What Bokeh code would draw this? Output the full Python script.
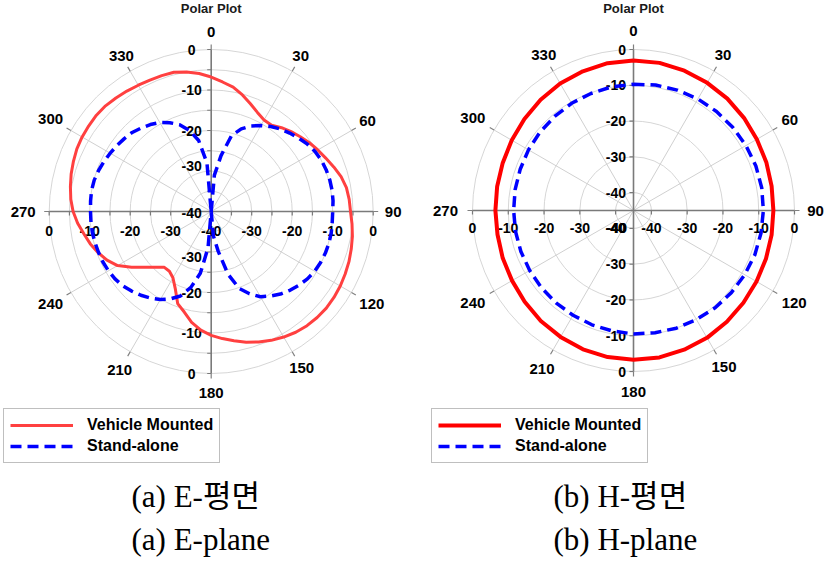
import math
from bokeh.plotting import figure
from bokeh.models import Range1d, Legend, LegendItem
from bokeh.layouts import row
from bokeh.core.properties import value
from bokeh.embed import file_html
from bokeh.resources import INLINE

# ---------------- data ----------------
E_ANGLES = list(range(0, 360, 5))
E_VEHICLE = [-6.8, -7.9, -8.8, -10.2, -11.7, -13.0, -13.9, -14.0, -13.0, -12.1,
             -11.3, -10.4, -9.6, -8.8, -7.8, -6.8, -6.1, -5.8, -5.6, -5.1,
             -4.6, -4.2, -3.8, -3.5, -3.2, -3.0, -2.9, -3.0, -3.2, -3.6,
             -4.2, -4.9, -5.7, -6.6, -7.6, -8.5, -9.4, -10.6, -12.2, -14.3,
             -15.8, -19.0, -21.1, -22.0, -22.0, -20.5, -18.6, -16.0, -13.3, -11.6,
             -10.3, -9.1, -8.1, -6.9, -5.9, -5.2, -4.7, -4.2, -3.8, -3.4,
             -3.2, -3.1, -3.0, -3.1, -3.4, -3.7, -4.0, -4.2, -4.3, -4.4,
             -5.0, -5.8]
E_STANDALONE = [-40.0, -31.0, -26.0, -20.6, -18.3, -16.7, -15.5, -14.4, -13.4, -12.6,
                -11.8, -11.0, -10.4, -10.0, -9.8, -9.7, -9.7, -9.8, -10.0, -10.0,
                -9.9, -9.9, -10.0, -10.2, -10.5, -11.0, -11.7, -12.5, -13.4, -14.5,
                -15.7, -17.6, -19.8, -24.0, -30.0, -34.0, -40.0, -31.0, -24.5, -20.6,
                -17.8, -16.2, -14.9, -13.9, -13.0, -12.2, -11.5, -11.0, -10.7, -10.5,
                -10.4, -10.3, -10.2, -10.2, -10.2, -10.1, -10.0, -10.1, -10.4, -10.8,
                -11.2, -11.6, -12.0, -12.4, -13.1, -13.8, -14.6, -15.8, -17.2, -19.3,
                -22.2, -28.0]
H_ANGLES = list(range(0, 360, 10))
H_VEHICLE = [-3.1, -3.1, -3.4, -3.8, -4.2, -4.7, -5.2, -5.5, -5.8, -5.9,
             -5.8, -5.6, -5.3, -4.9, -4.4, -3.9, -3.6, -3.3, -3.3, -3.4,
             -3.7, -4.2, -4.7, -5.3, -5.8, -6.1, -6.4, -6.4, -6.3, -6.1,
             -5.7, -5.2, -4.6, -4.0, -3.6, -3.2]
H_STANDALONE = [-9.7, -9.4, -9.2, -9.0, -8.9, -8.8, -8.7, -8.6, -8.6, -8.7,
                -8.8, -8.9, -9.1, -9.3, -9.5, -9.8, -10.0, -10.3, -10.5, -10.8,
                -11.0, -11.2, -11.3, -11.4, -11.5, -11.5, -11.5, -11.5, -11.4, -11.3,
                -11.1, -10.9, -10.7, -10.4, -10.2, -9.9]

ANGLE_TICKS = [0, 30, 60, 90, 120, 150, 180, 210, 240, 270, 300, 330]
ANGLE_LABELS = ["0", "30", "60", "90", "120", "150", "180", "210", "240", "270", "300", "330"]
E_RINGS = [-35, -30, -25, -20, -15, -10, -5, 0]
E_LABEL_VALUES = [0, -10, -20, -30, -40]
H_RINGS = [-40, -30, -20, -10, 0]
H_LABEL_VALUES = [0, -10, -20, -30, -40]
SERIES = ["Vehicle Mounted", "Stand-alone"]
TITLE = "Polar Plot"
CAPTIONS_E = ["(a)  E-평면", "(a)  E-plane"]
CAPTIONS_H = ["(b)  H-평면", "(b)  H-plane"]

# ---------------- styling / layout ----------------
SANS = value("Liberation Sans")
SERIF = value("Liberation Serif, Noto Sans CJK KR")
ANGLE_LABEL_RADIUS_PX = [180, 179, 180.5, 182, 185.5, 181, 181, 183, 185.5, 188, 185.5, 179.5]
PAGE_TOP, PAGE_BOTTOM = 0, 562


def polar_xy(angles, db, db_min):
    xs, ys = [], []
    for a, d in zip(list(angles) + [angles[0]], list(db) + [db[0]]):
        r = max(d - db_min, 0.0)
        t = math.radians(a)
        xs.append(r * math.sin(t))
        ys.append(r * math.cos(t))
    return xs, ys


def make_panel(fig_left, fig_w, cx, cy, r_px, db_min, rings, label_values,
               angles, vehicle, standalone, red_color, red_width, captions,
               caption_x, legend_x, vlabel_mode):
    k = r_px / (-db_min)  # pixels per dB
    X = lambda px: (px - cx) / k
    Y = lambda py: (cy - py) / k
    p = figure(width=fig_w, height=PAGE_BOTTOM - PAGE_TOP,
               x_range=Range1d(X(fig_left), X(fig_left + fig_w)),
               y_range=Range1d(Y(PAGE_BOTTOM), Y(PAGE_TOP)),
               output_backend="svg", toolbar_location=None, title=None,
               x_axis_location=None, y_axis_location=None, min_border=0,
               outline_line_color=None, background_fill_color="white",
               border_fill_color="white")
    p.grid.visible = False
    R = -db_min

    # rings
    radii = [v - db_min for v in rings]
    p.circle(x=[0] * len(radii), y=[0] * len(radii), radius=radii,
             fill_color=None, line_color="#d6d6d6", line_width=1)
    # spokes
    sp = [a for a in ANGLE_TICKS if a % 90 != 0]
    p.segment(x0=[0] * len(sp), y0=[0] * len(sp),
              x1=[R * math.sin(math.radians(a)) for a in sp],
              y1=[R * math.cos(math.radians(a)) for a in sp],
              line_color="#d0d0d0", line_width=1)
    ext = R + 5 / k
    p.segment(x0=[R * math.sin(math.radians(a)) for a in ANGLE_TICKS],
              y0=[R * math.cos(math.radians(a)) for a in ANGLE_TICKS],
              x1=[ext * math.sin(math.radians(a)) for a in ANGLE_TICKS],
              y1=[ext * math.cos(math.radians(a)) for a in ANGLE_TICKS],
              line_color="#808080", line_width=1.2)
    # main axes
    p.segment(x0=[-R, 0], y0=[0, -R], x1=[R, 0], y1=[0, R],
              line_color="#7a7a7a", line_width=1.6)
    tl = 4 / k
    tick_r = [v - db_min for v in rings]
    hx = [s * r for r in tick_r for s in (-1, 1)]
    p.segment(x0=hx, y0=[0] * len(hx), x1=hx, y1=[-tl] * len(hx),
              line_color="#7a7a7a", line_width=1.2)
    p.segment(x0=[0] * len(hx), y0=hx, x1=[-tl] * len(hx), y1=hx,
              line_color="#7a7a7a", line_width=1.2)

    # title
    p.text(x=[X(cx)], y=[Y(7.5)], text=[TITLE], text_align="center",
           text_baseline="middle", text_font=SANS, text_font_style="bold",
           text_font_size="13px", text_color="#1a1a1a")

    # angle labels
    lr = [rp / k for rp in ANGLE_LABEL_RADIUS_PX]
    p.text(x=[r * math.sin(math.radians(a)) for r, a in zip(lr, ANGLE_TICKS)],
           y=[r * math.cos(math.radians(a)) for r, a in zip(lr, ANGLE_TICKS)],
           text=ANGLE_LABELS, text_align="center", text_baseline="middle",
           text_font=SANS, text_font_style="bold", text_font_size="15px",
           text_color="black")

    # value labels on the vertical axis
    vt, vy = [], []
    for v in label_values:
        r = v - db_min
        nudge = 5 / k if (vlabel_mode == "E" and v == -30) else 0
        vt.append(str(v)); vy.append(r + nudge if r > 0 else -1.3 / k)
    for v in label_values[::-1]:
        r = v - db_min
        if r <= 0:
            continue
        nudge = 5 / k if (vlabel_mode == "E" and v == -30) else 0
        vt.append(str(v)); vy.append(-(r + nudge))
    if vlabel_mode == "E":
        p.text(x=[-19.5 / k] * len(vt), y=vy, text=vt, text_align="center",
               text_baseline="middle", text_font=SANS, text_font_style="bold",
               text_font_size="14px", text_color="black")
    else:
        p.text(x=[-7.5 / k] * len(vt), y=vy, text=vt, text_align="right",
               text_baseline="middle", text_font=SANS, text_font_style="bold",
               text_font_size="14px", text_color="black")

    # value labels on the horizontal axis
    ht, hxs = [], []
    for v in label_values:
        r = v - db_min
        ht.append(str(v)); hxs.append(-r)
    if vlabel_mode == "H":
        ht.append(str(label_values[-1])); hxs.append(-(label_values[-1] - db_min) + 1.2 / k)
    for v in label_values[::-1]:
        r = v - db_min
        if r <= 0:
            continue
        ht.append(str(v)); hxs.append(r)
    hy = -(19 if vlabel_mode == "E" else 17.7) / k
    p.text(x=hxs, y=[hy] * len(hxs), text=ht, text_align="center",
           text_baseline="middle", text_font=SANS, text_font_style="bold",
           text_font_size="14px", text_color="black")

    # data
    xs, ys = polar_xy(angles, vehicle, db_min)
    r1 = p.line(xs, ys, line_color=red_color, line_width=red_width,
                line_join="round")
    xs, ys = polar_xy(angles, standalone, db_min)
    r2 = p.line(xs, ys, line_color="#0000ff", line_width=3.5,
                line_dash="11 6", line_join="round")

    legend = Legend(items=[LegendItem(label=SERIES[0], renderers=[r1]),
                           LegendItem(label=SERIES[1], renderers=[r2])],
                    location=(legend_x, 99), orientation="vertical",
                    border_line_color="#7f7f7f", border_line_width=1,
                    background_fill_color="white", background_fill_alpha=1,
                    label_text_font="Liberation Sans", label_text_font_style="bold",
                    label_text_font_size="16px", label_text_color="black",
                    glyph_width=63, glyph_height=20, label_height=20,
                    label_standoff=14, spacing=1, padding=6, margin=0)
    p.add_layout(legend)

    # captions
    p.text(x=[X(caption_x)] * 2, y=[Y(496), Y(539)], text=captions,
           text_align="left", text_baseline="middle", text_font=SERIF,
           text_font_size="31px", text_color="black")
    return p


p1 = make_panel(0, 419, 210.7, 211, 162, -40, E_RINGS, E_LABEL_VALUES,
                E_ANGLES, E_VEHICLE, E_STANDALONE, "#ff4040", 3, CAPTIONS_E,
                131, 3, "E")
p2 = make_panel(419, 408, 633, 210, 161, -45, H_RINGS, H_LABEL_VALUES,
                H_ANGLES, H_VEHICLE, H_STANDALONE, "#ff0000", 4, CAPTIONS_H,
                553, 12, "H")

layout = row(p1, p2)
open("out.html", "w").write(file_html(layout, INLINE))
